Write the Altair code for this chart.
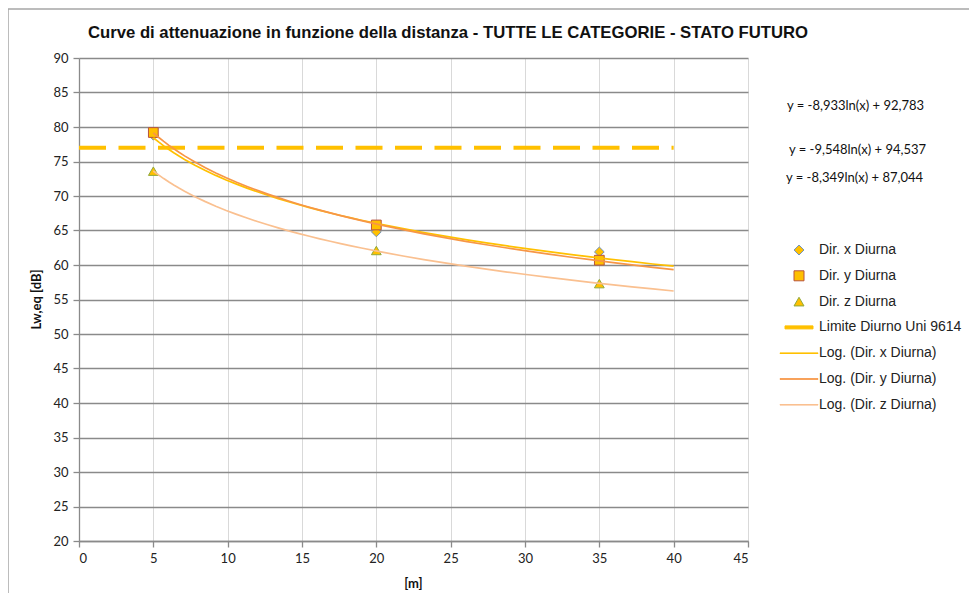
import altair as alt
import pandas as pd

# ---- data ----
distances = [5, 20, 35]
dir_x = [78.8, 64.8, 61.9]
dir_y = [79.2, 65.8, 60.7]
dir_z = [73.6, 62.1, 57.3]
limit_x = [0, 40]
limit_y = [77, 77]
trend_extent = [5, 40]
point_series = ["Dir. x Diurna", "Dir. y Diurna", "Dir. z Diurna"]
limit_name = "Limite Diurno Uni 9614"
trend_series = ["Log. (Dir. x Diurna)", "Log. (Dir. y Diurna)", "Log. (Dir. z Diurna)"]
equations = ["y = -8,933ln(x) + 92,783", "y = -9,548ln(x) + 94,537", "y = -8,349ln(x) + 87,044"]
x_ticks = list(range(0, 46, 5))
y_ticks = list(range(20, 91, 5))
title_text = "Curve di attenuazione in funzione della distanza - TUTTE LE CATEGORIE - STATO FUTURO"

# ---- tables ----
rows = []
for name, vals in zip(point_series, [dir_x, dir_y, dir_z]):
    for d, v in zip(distances, vals):
        rows.append({"d": d, "v": v, "series": name})
points_df = pd.DataFrame(rows)
limit_df = pd.DataFrame({"d": limit_x, "v": limit_y, "series": [limit_name] * len(limit_x)})

# legend glyphs for the line entries (custom symbol paths in unit space)
bar_path = "M-2.8,-0.3L2.8,-0.3L2.8,0.3L-2.8,0.3Z"
thin_path = "M-3.8,-0.06L3.8,-0.06L3.8,0.06L-3.8,0.06Z"

domain = point_series + [limit_name] + trend_series
line_colors = ["#FFC000", "#FFC000", "#F79646", "#FAC090"]
stroke_scale = alt.Scale(domain=domain, range=["#7393BC", "#B8533E", "#8FA83C"] + line_colors)
fill_scale = alt.Scale(domain=domain, range=["#FFC000", "#FFC000", "#FFC000"] + line_colors)
shape_scale = alt.Scale(domain=domain, range=["diamond", "square", "triangle-up", bar_path,
                                              thin_path, thin_path, thin_path])

legend = alt.Legend(
    title=None, orient="none", legendX=713, legendY=185,
    labelFont="Liberation Sans", labelFontSize=14, labelColor="#222222", labelLimit=400,
    labelOffset=13, rowPadding=11.8, padding=0, symbolOpacity=1, symbolSize=100,
    symbolStrokeWidth=1,
)

x_enc = alt.X("d:Q", scale=alt.Scale(domain=[0, 45], nice=False),
              axis=alt.Axis(values=x_ticks, title="[m]", grid=True, gridColor="#D9D9D9",
                            titleX=334, titleY=36))
y_enc = alt.Y("v:Q", scale=alt.Scale(domain=[20, 90], nice=False, zero=False),
              axis=alt.Axis(values=y_ticks, title="Lw,eq [dB]", grid=True, gridColor="#8A8A8A",
                            gridWidth=1.3, titleX=-36, titleY=241))

points = alt.Chart(points_df).mark_point(filled=True, opacity=1, size=95, strokeWidth=1).encode(
    x=x_enc, y=y_enc,
    shape=alt.Shape("series:N", scale=shape_scale, legend=legend),
    fill=alt.Fill("series:N", scale=fill_scale, legend=legend),
    stroke=alt.Stroke("series:N", scale=stroke_scale, legend=legend),
)

limit = alt.Chart(limit_df).mark_line(strokeDash=[27, 12.5], strokeCap="butt", strokeWidth=4).encode(
    x=x_enc, y=y_enc,
    stroke=alt.Stroke("series:N", scale=stroke_scale, legend=legend),
)

trends = alt.Chart(points_df).transform_regression(
    "d", "v", groupby=["series"], method="log", extent=trend_extent
).transform_calculate(
    series="'Log. (' + datum.series + ')'"
).mark_line(strokeWidth=1.7).encode(
    x=x_enc, y=y_enc,
    stroke=alt.Stroke("series:N", scale=stroke_scale, legend=legend),
    detail="series:N",
)

eq_pos = [(708, 48), (710, 92), (707, 120)]
eq_layers = []
for eq, (px, py) in zip(equations, eq_pos):
    eq_layers.append(
        alt.Chart(alt.Data(values=[{"t": eq}])).mark_text(
            align="left", baseline="middle", font="Lato", fontSize=13, color="#111111"
        ).encode(text="t:N", x=alt.value(px), y=alt.value(py))
    )

title = alt.Chart(alt.Data(values=[{"t": title_text}])).mark_text(
    align="center", baseline="middle", font="Liberation Sans", fontSize=16.7,
    fontWeight="bold", color="#111111"
).encode(text="t:N", x=alt.value(369), y=alt.value(-25))

border = alt.Chart(alt.Data(values=[{}])).mark_rect(
    fill="transparent", stroke="#A6A6A6", strokeWidth=1.5
).encode(x=alt.value(-71), y=alt.value(-49), x2=alt.value(910), y2=alt.value(560))

chart = alt.layer(border, points, limit, trends, title, *eq_layers).properties(
    width=669, height=483,
    autosize=alt.AutoSizeParams(type="none"),
    padding={"left": 71, "top": 50, "right": 221, "bottom": 52},
).configure_view(stroke=None).configure_axis(
    labelFont="Lato", labelFontSize=13, labelColor="#222222",
    titleFont="Lato", titleFontSize=13, titleFontWeight="bold", titleColor="#111111",
    domainColor="#8A8A8A", tickColor="#8A8A8A", tickSize=6, domainWidth=1.3, tickWidth=1.3,
    labelPadding=5,
)

chart.save("out.html", embed_options={"renderer": "svg", "actions": False})
